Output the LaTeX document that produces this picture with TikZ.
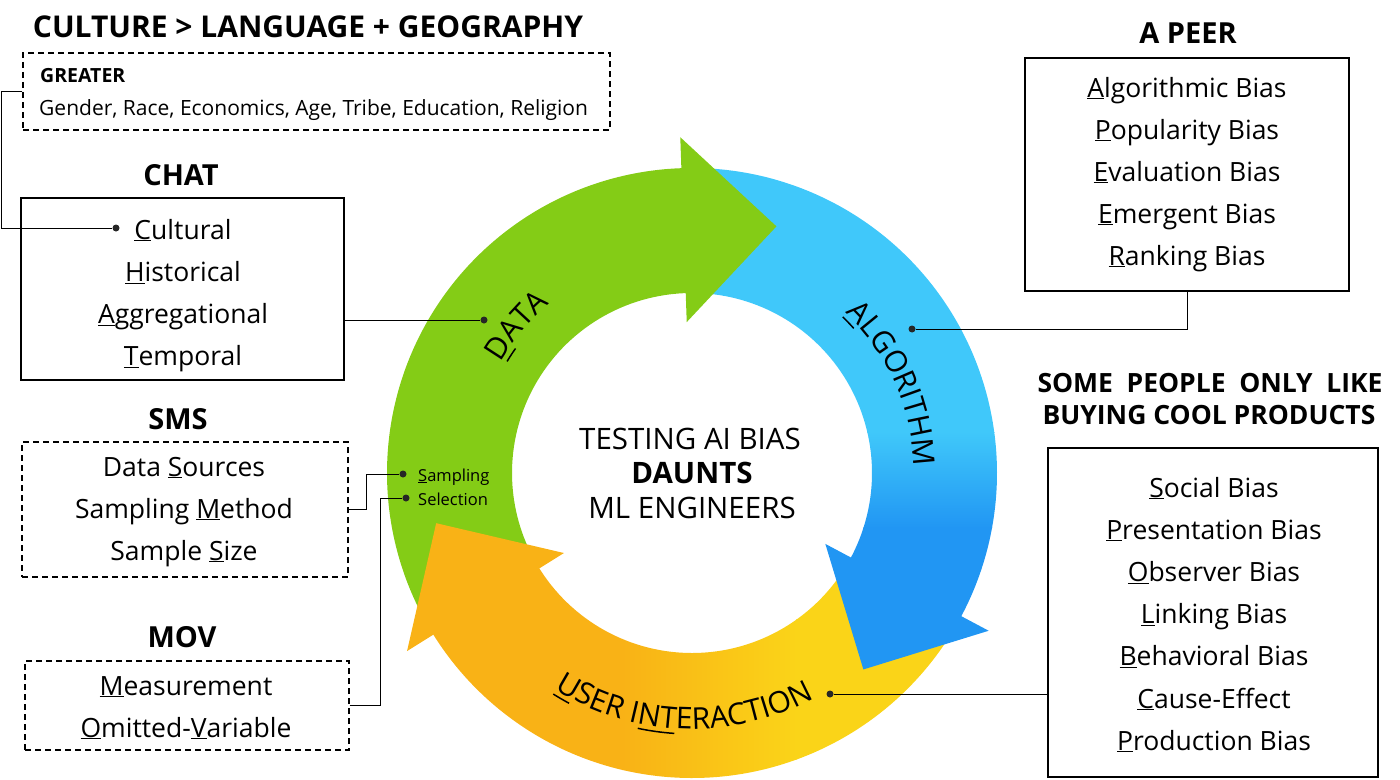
\documentclass[tikz,border=0pt]{standalone}
\usepackage{fontspec}
\setmainfont{Open Sans}
\usetikzlibrary{decorations.text}
\definecolor{grn}{HTML}{84CC16}
\definecolor{bluL}{HTML}{40C8FA}
\definecolor{bluD}{HTML}{2196F3}
\definecolor{orgA}{HTML}{F9B216}
\definecolor{yelB}{HTML}{FAD418}
\newcommand\uln[1]{\underline{#1}}
\newcommand\ringf{\fontsize{30}{32}\selectfont}
\tikzset{
  ttl/.style={font=\fontsize{29}{31}\selectfont\bfseries, anchor=base, inner sep=0pt},
  itm/.style={font=\fontsize{26.5}{30}\selectfont, anchor=base, inner sep=0pt},
  smalltxt/.style={font=\fontsize{16.5}{18}\selectfont, anchor=base west, inner sep=0pt},
  ctr/.style={font=\fontsize{29.5}{32}\selectfont, anchor=base, inner sep=0pt},
  solidbox/.style={draw=black, line width=1.4pt, inner sep=0pt},
  dashbox/.style={draw=black, line width=1.4pt, dash pattern=on 6pt off 4pt, inner sep=0pt},
  conn/.style={draw=black, line width=0.9pt},
  dotst/.style={circle, fill=black!85, inner sep=0pt, minimum size=7pt},
  ulin/.style={draw=black, line width=1.5pt},
}
\begin{document}
\begin{tikzpicture}[x=1pt,y=-1pt]
\useasboundingbox (0,0) rectangle (1400,779);

% ---------------- ring ----------------
\begin{scope}[shift={(692,473)}, x=1pt, y=1pt]
  % shafts
  \fill[grn] (206:305) arc[start angle=206, end angle=91, radius=305]
     -- (91:180) arc[start angle=91, end angle=206, radius=180] -- cycle;
  \begin{scope}
    \clip (86:305) arc[start angle=86, end angle=-29, radius=305]
       -- (-29:180) arc[start angle=-29, end angle=86, radius=180] -- cycle;
    \fill[bluL] (-360,40) rectangle (360,360);
    \shade[top color=bluL, bottom color=bluD] (-360,-55) rectangle (360,41);
    \fill[bluD] (-360,-360) rectangle (360,-54);
  \end{scope}
  \begin{scope}
    \clip (-34:305) arc[start angle=-34, end angle=-149, radius=305]
       -- (-149:180) arc[start angle=-149, end angle=-34, radius=180] -- cycle;
    \fill[orgA] (-360,-360) rectangle (-69,360);
    \shade[left color=orgA, right color=yelB] (-70,-360) rectangle (105,360);
    \fill[yelB] (104,-360) rectangle (360,360);
  \end{scope}
  % heads
  \fill[grn] (92:151) -- (92:336) -- (71.1:260.7) -- cycle;
  \fill[bluD] (-28:151) -- (-28:336) -- (-48.9:260.7) -- cycle;
  \fill[orgA] (-148:151) -- (-148:336) -- (-168.9:260.7) -- cycle;

  % ring labels
  \path[decorate, decoration={text along path, text={|\ringf|DATA}, text align=center}]
    (175:221) arc[start angle=175, end angle=105, radius=221];
  \draw[ulin] (148.9:216) arc[start angle=148.9, end angle=144.8, radius=216];
  \path[decorate, decoration={text along path, text={|\ringf|ALGORITHM}, text align=center}]
    (59:222) arc[start angle=59, end angle=-11, radius=222];
  \draw[ulin] (46.0:217) arc[start angle=46.0, end angle=41.8, radius=217];
  \path[decorate, decoration={text along path, text={|\ringf|USER INTERACTION}, text align=center}]
    (223:256) arc[start angle=223, end angle=313, radius=256];
  \draw[ulin] (237.9:261) arc[start angle=237.9, end angle=241.9, radius=261];
  \draw[ulin] (258.0:261) arc[start angle=258.0, end angle=266.1, radius=261];
\end{scope}

% ---------------- center text ----------------
\node[ctr] (c1) at (690,449) {TESTING AI BIAS};
\node[ctr, font=\fontsize{29.5}{32}\selectfont\bfseries] (c2) at (692,483) {DAUNTS};
\node[ctr] (c3) at (692,518) {ML ENGINEERS};

% ---------------- dots on ring ----------------
\node[dotst] (dotD) at (484,320) {};
\node[dotst] (dotA) at (912,329) {};
\node[dotst] (dotU) at (830,694) {};
\node[dotst] (dotS) at (403,474) {};
\node[dotst] (dotE) at (406,498) {};
\node[smalltxt] (samp) at (418,481) {\uln{S}ampling};
\node[smalltxt] (sel) at (418,505) {Selection};

% ---------------- top-left ----------------
\node[ttl, font=\fontsize{30}{32}\selectfont\bfseries] (title) at (308,37) {CULTURE > LANGUAGE + GEOGRAPHY};
\node[dashbox, minimum width=587pt, minimum height=77pt] (greater) at (316.5,91.5) {};
\node[font=\fontsize{19.5}{22}\selectfont\bfseries, anchor=base west, inner sep=0pt] (gtitle) at (40,82) {GREATER};
\node[font=\fontsize{21}{24}\selectfont, anchor=base west, inner sep=0pt] (glist) at (39,115) {Gender, Race, Economics, Age, Tribe, Education, Religion};

% CHAT
\node[ttl] (chatt) at (181,185) {CHAT};
\node[solidbox, minimum width=323pt, minimum height=182pt] (chatbox) at (182.5,289) {};
\foreach \t [count=\i from 0] in {{\uln{C}ultural},{\uln{H}istorical},{\uln{A}ggregational},{\uln{T}emporal}}
  \node[itm] (chat\i) at (183,{239+42.3*\i}) {\t};
\node[dotst] (dotC) at (116,228) {};

% SMS
\node[ttl] (smst) at (178,429) {SMS};
\node[dashbox, minimum width=326pt, minimum height=135pt] (smsbox) at (185,509.5) {};
\foreach \t [count=\i from 0] in {{Data \uln{S}ources},{Sampling \uln{M}ethod},{Sample \uln{S}ize}}
  \node[itm] (sms\i) at (184,{476+42*\i}) {\t};

% MOV
\node[ttl] (movt) at (182,647) {MOV};
\node[dashbox, minimum width=324pt, minimum height=89pt] (movbox) at (187,705.5) {};
\foreach \t [count=\i from 0] in {{\uln{M}easurement},{\uln{O}mitted-\uln{V}ariable}}
  \node[itm] (mov\i) at (186,{695+42*\i}) {\t};

% A PEER
\node[ttl] (apeert) at (1188,43) {A PEER};
\node[solidbox, minimum width=324pt, minimum height=233pt] (apeerbox) at (1187,174.5) {};
\foreach \t [count=\i from 0] in {{\uln{A}lgorithmic Bias},{\uln{P}opularity Bias},{\uln{E}valuation Bias},{\uln{E}mergent Bias},{\uln{R}anking Bias}}
  \node[itm] (ap\i) at (1187,{97+42*\i}) {\t};

% SOME PEOPLE
\node[ttl, font=\fontsize{26.5}{28}\selectfont\bfseries] (spt1) at (1210,392) {\makebox[345pt][s]{SOME PEOPLE ONLY LIKE}};
\node[ttl, font=\fontsize{26.5}{28}\selectfont\bfseries] (spt2) at (1209,424) {BUYING COOL PRODUCTS};
\node[solidbox, minimum width=330pt, minimum height=329pt] (spbox) at (1213,612.5) {};
\foreach \t [count=\i from 0] in {{\uln{S}ocial Bias},{\uln{P}resentation Bias},{\uln{O}bserver Bias},{\uln{L}inking Bias},{\uln{B}ehavioral Bias},{\uln{C}ause-Effect},{\uln{P}roduction Bias}}
  \node[itm] (sp\i) at (1214,{497+42.2*\i}) {\t};

% ---------------- connectors ----------------
\draw[conn] (greater.west) -- ++(-21,0) |- (dotC);
\draw[conn] (dotD -| chatbox.east) -- (dotD);
\draw[conn] (smsbox.east) -- ++(18,0) |- (dotS);
\draw[conn] (movbox.east) -- ++(31,0) |- (dotE);
\draw[conn] (apeerbox.south) |- (dotA);
\draw[conn] (dotU) -- (dotU -| spbox.west);
\end{tikzpicture}
\end{document}
